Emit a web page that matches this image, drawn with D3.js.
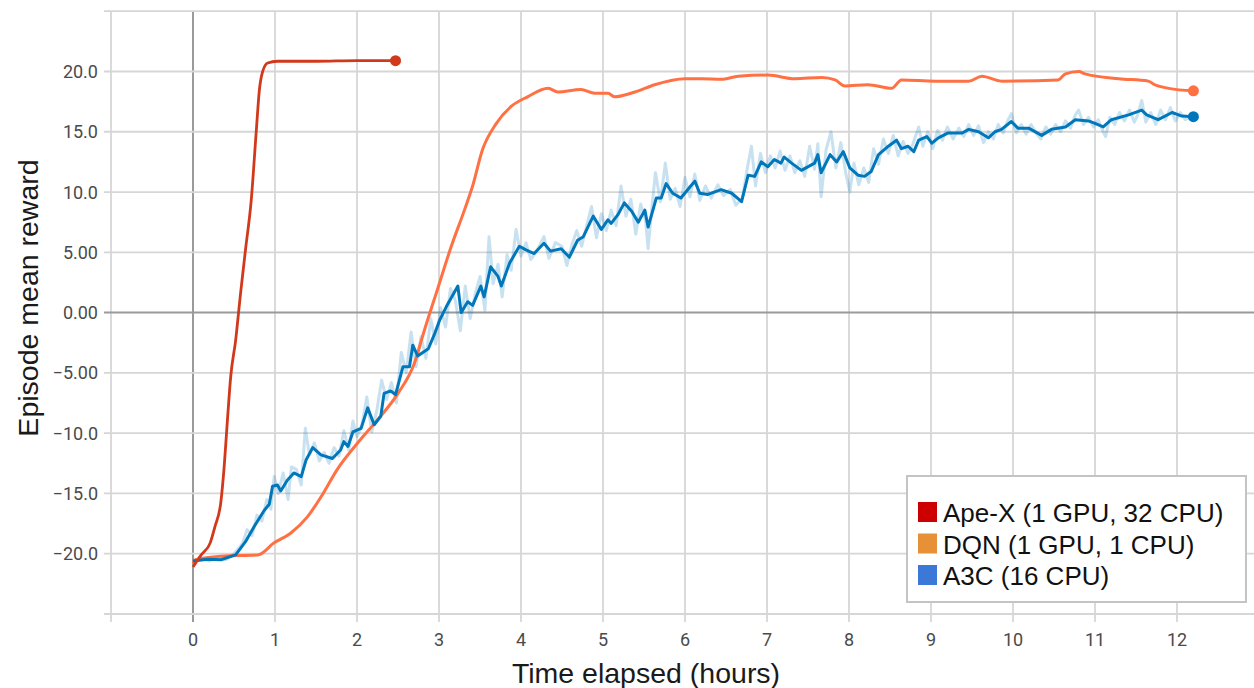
<!DOCTYPE html>
<html>
<head>
<meta charset="utf-8">
<script src="https://cdn.jsdelivr.net/npm/d3@7.9.0/dist/d3.min.js"></script>
<style>
  html, body { margin: 0; padding: 0; background: #fff; }
  svg { display: block; }
</style>
</head>
<body>
<svg id="chart" width="1254" height="688"></svg>
<script>
// x ticks (hours) and y ticks (reward)
const xTicks = [-1, 0, 1, 2, 3, 4, 5, 6, 7, 8, 9, 10, 11, 12];
const yTicks = [-25, -20, -15, -10, -5, 0, 5, 10, 15, 20, 25];

// Ape-X (1 GPU, 32 CPU)
const apexHours  = [0, 0.1, 0.21, 0.27, 0.34, 0.38, 0.42, 0.46, 0.52, 0.58, 0.64, 0.71, 0.77, 0.81, 0.85, 0.91, 1.03, 1.5, 2.0, 2.47];
const apexReward = [-21.1, -20.1, -19.1, -17.7, -15.7, -12.8, -8.9, -5.3, -2.3, 1.6, 5.2, 9.3, 14.9, 18.5, 20.0, 20.7, 20.85, 20.85, 20.9, 20.9];

// DQN (1 GPU, 1 CPU)
const dqnHours  = [0, 0.03, 0.34, 0.79, 0.99, 1.19, 1.4, 1.56, 1.76, 2.01, 2.25, 2.5, 2.7, 2.82, 2.98, 3.15, 3.31, 3.41, 3.53, 3.7, 3.88, 4.08, 4.33, 4.45, 4.73, 4.9, 5.06, 5.14, 5.39, 5.63, 6.0, 6.2, 6.44, 6.65, 7.01, 7.34, 7.67, 7.83, 7.95, 8.23, 8.52, 8.64, 9.05, 9.46, 9.62, 9.86, 10.55, 10.64, 10.8, 10.88, 11.29, 11.65, 11.73, 11.9, 12.2];
const dqnReward = [-20.8, -20.5, -20.2, -20.1, -19.1, -18.3, -16.9, -15.3, -13.0, -10.8, -8.9, -6.7, -4.2, -1.5, 1.9, 5.5, 8.5, 10.5, 13.5, 15.7, 17.1, 17.9, 18.6, 18.3, 18.5, 18.2, 18.2, 17.9, 18.3, 18.9, 19.4, 19.4, 19.35, 19.6, 19.7, 19.4, 19.5, 19.3, 18.8, 18.9, 18.6, 19.3, 19.2, 19.2, 19.6, 19.2, 19.3, 19.8, 20.0, 19.8, 19.4, 19.2, 18.9, 18.6, 18.4];

// A3C (16 CPU), smoothed
const a3cHours  = [0, 0.18, 0.34, 0.52, 0.64, 0.75, 0.87, 0.93, 0.97, 1.03, 1.07, 1.15, 1.23, 1.32, 1.38, 1.46, 1.56, 1.7, 1.8, 1.84, 1.89, 1.95, 2.05, 2.13, 2.21, 2.29, 2.33, 2.41, 2.47, 2.56, 2.64, 2.68, 2.74, 2.87, 2.95, 3.01, 3.09, 3.23, 3.27, 3.35, 3.41, 3.51, 3.55, 3.63, 3.72, 3.76, 3.86, 3.98, 4.06, 4.16, 4.28, 4.36, 4.49, 4.59, 4.69, 4.76, 4.88, 4.98, 5.06, 5.1, 5.18, 5.26, 5.35, 5.43, 5.51, 5.55, 5.65, 5.71, 5.77, 5.85, 5.95, 6.07, 6.12, 6.18, 6.28, 6.44, 6.57, 6.69, 6.77, 6.85, 6.93, 7.01, 7.09, 7.17, 7.21, 7.3, 7.42, 7.58, 7.62, 7.66, 7.77, 7.85, 7.93, 8.01, 8.11, 8.19, 8.27, 8.36, 8.48, 8.58, 8.64, 8.72, 8.79, 8.85, 8.95, 9.01, 9.09, 9.21, 9.38, 9.46, 9.58, 9.7, 9.78, 9.86, 9.98, 10.06, 10.19, 10.35, 10.47, 10.64, 10.76, 10.92, 11.0, 11.1, 11.2, 11.41, 11.57, 11.63, 11.77, 11.94, 12.06, 12.2];
const a3cReward = [-20.6, -20.45, -20.5, -20.1, -19.0, -17.7, -16.4, -15.9, -14.4, -14.3, -14.8, -13.9, -13.3, -13.6, -12.2, -11.2, -11.8, -12.1, -11.4, -10.7, -11.1, -9.9, -9.6, -7.9, -9.3, -8.6, -6.7, -6.5, -6.8, -4.5, -4.5, -2.7, -3.6, -3.0, -1.7, -0.6, 0.5, 2.2, 0.0, 0.9, 0.6, 2.2, 1.3, 3.8, 3.0, 2.2, 4.1, 5.5, 5.2, 4.9, 5.75, 5.1, 5.3, 4.6, 6.0, 6.3, 8.0, 6.9, 7.7, 7.4, 8.1, 9.1, 8.4, 7.5, 8.5, 7.1, 9.5, 9.5, 10.7, 9.9, 9.5, 10.5, 10.9, 9.9, 9.8, 10.2, 9.9, 9.2, 11.4, 11.3, 12.5, 12.1, 12.7, 12.4, 12.9, 12.4, 11.8, 12.4, 13.1, 11.6, 13.1, 12.5, 13.35, 12.0, 11.4, 11.3, 11.7, 13.1, 13.8, 14.3, 13.6, 13.8, 13.35, 14.3, 14.6, 14.05, 14.5, 14.9, 14.9, 15.2, 15.0, 14.5, 15.0, 15.2, 15.85, 15.3, 15.3, 14.7, 15.2, 15.4, 16.0, 15.9, 15.7, 15.4, 16.0, 16.4, 16.8, 16.4, 16.0, 16.6, 16.3, 16.25];

// A3C raw (unsmoothed, faint)
const a3cRawHours = [0, 0.1, 0.2, 0.3, 0.4, 0.5, 0.6, 0.66, 0.72, 0.78, 0.84, 0.9, 0.95, 0.99, 1.04, 1.1, 1.16, 1.2, 1.26, 1.32, 1.37, 1.42, 1.48, 1.54, 1.6, 1.66, 1.72, 1.78, 1.84, 1.9, 1.95, 2.0, 2.06, 2.12, 2.18, 2.24, 2.3, 2.36, 2.42, 2.48, 2.54, 2.6, 2.66, 2.72, 2.78, 2.84, 2.9, 2.96, 3.02, 3.08, 3.14, 3.2, 3.26, 3.32, 3.38, 3.44, 3.5, 3.56, 3.61, 3.66, 3.72, 3.77, 3.83, 3.88, 3.94, 4.0, 4.06, 4.12, 4.2, 4.28, 4.34, 4.42, 4.5, 4.56, 4.62, 4.68, 4.74, 4.8, 4.86, 4.92, 4.98, 5.04, 5.1, 5.16, 5.22, 5.28, 5.34, 5.4, 5.46, 5.52, 5.55, 5.6, 5.64, 5.7, 5.76, 5.82, 5.88, 5.94, 6.0, 6.06, 6.12, 6.18, 6.25, 6.32, 6.4, 6.47, 6.55, 6.62, 6.7, 6.76, 6.81, 6.86, 6.92, 6.98, 7.04, 7.1, 7.16, 7.22, 7.28, 7.34, 7.4, 7.46, 7.52, 7.58, 7.62, 7.66, 7.72, 7.78, 7.84, 7.9, 7.96, 8.01, 8.06, 8.12, 8.18, 8.24, 8.3, 8.36, 8.42, 8.48, 8.54, 8.6, 8.66, 8.72, 8.78, 8.85, 8.9, 8.96, 9.02, 9.08, 9.14, 9.2, 9.27, 9.34, 9.4, 9.46, 9.52, 9.58, 9.64, 9.7, 9.76, 9.82, 9.88, 9.94, 9.98, 10.04, 10.1, 10.16, 10.22, 10.28, 10.34, 10.4, 10.46, 10.52, 10.58, 10.64, 10.7, 10.76, 10.8, 10.86, 10.92, 10.98, 11.04, 11.1, 11.13, 11.18, 11.24, 11.3, 11.36, 11.42, 11.48, 11.52, 11.57, 11.62, 11.68, 11.74, 11.8, 11.86, 11.92, 11.98, 12.04, 12.1, 12.2];
const a3cRaw = [-20.6, -20.4, -20.6, -20.3, -20.5, -20.0, -19.2, -18.0, -18.5, -16.8, -17.3, -15.5, -16.3, -13.6, -15.0, -13.3, -15.5, -12.8, -13.0, -14.3, -9.6, -11.8, -10.8, -12.3, -11.6, -12.5, -11.2, -11.9, -9.8, -11.4, -9.0, -10.3, -9.3, -7.0, -9.9, -8.2, -5.6, -7.2, -5.8, -7.5, -3.3, -5.0, -1.6, -4.5, -2.0, -3.8, -0.5, -2.6, 0.4, -1.2, 2.0, 1.0, -1.5, 2.2, -0.5, 1.5, 3.0, 0.2, 6.3, 2.4, 4.0, 1.3, 4.8, 3.5, 6.9, 4.7, 5.8, 4.4, 5.2, 6.3, 4.5, 5.8, 5.5, 3.9, 5.6, 6.8, 5.5, 7.2, 8.8, 6.2, 8.2, 6.8, 8.5, 7.2, 10.5, 8.0, 9.4, 6.5, 9.0, 7.6, 5.3, 9.0, 11.6, 9.2, 12.4, 9.4, 10.3, 8.8, 11.2, 9.6, 11.5, 9.3, 10.5, 9.5, 10.6, 9.7, 10.2, 8.9, 9.5, 12.0, 13.8, 10.5, 13.2, 11.6, 13.0, 12.0, 13.4, 11.8, 13.0, 11.6, 12.6, 11.3, 13.8, 11.9, 14.0, 9.6, 13.5, 15.0, 12.0, 14.1, 11.6, 10.0, 12.4, 10.6, 12.0, 10.8, 13.6, 12.3, 14.4, 13.2, 14.7, 13.0, 14.2, 13.2, 14.0, 15.4, 13.8, 15.0, 13.6, 15.1, 14.3, 15.4, 14.4, 15.3, 14.6, 15.6, 14.7, 15.5, 14.1, 15.0, 14.4, 15.6, 14.9, 16.0, 16.5, 14.9, 15.6, 14.8, 15.6, 14.9, 14.4, 15.4, 14.8, 15.6, 15.0, 15.9, 15.3, 16.4, 16.8, 15.6, 16.2, 15.4, 16.0, 15.0, 14.6, 16.2, 15.6, 16.6, 15.9, 16.8, 15.8, 16.4, 17.6, 15.8, 16.6, 15.6, 16.8, 16.0, 17.0, 15.9, 16.6, 16.0, 16.3];

const legendLabels = ["Ape-X (1 GPU, 32 CPU)", "DQN (1 GPU, 1 CPU)", "A3C (16 CPU)"];
const legendColors = ["#cc0000", "#e69138", "#3c78d8"];

const svg = d3.select("#chart");

const x = d3.scaleLinear().domain([-1, 12.85]).range([111, 1246.7]);
const y = d3.scaleLinear().domain([-25, 25]).range([614, 11.2]);

// grid
const grid = svg.append("g");
grid.selectAll("line.v").data(xTicks).join("line")
  .attr("x1", d => x(d)).attr("x2", d => x(d))
  .attr("y1", y(25)).attr("y2", y(-25) + 8)
  .attr("stroke", d => d === 0 ? "#9a9a9a" : "#d6d6d6")
  .attr("stroke-width", d => d === 0 ? 2 : 1.8);
grid.selectAll("line.h").data(yTicks).join("line")
  .attr("x1", x(-1) - 7).attr("x2", 1254)
  .attr("y1", d => y(d)).attr("y2", d => y(d))
  .attr("stroke", d => d === 0 ? "#9a9a9a" : "#d6d6d6")
  .attr("stroke-width", d => d === 0 ? 2 : 1.8);

// tick labels
const fmt = d3.format(".3r");
svg.append("g").selectAll("text").data(yTicks.filter(d => Math.abs(d) < 25)).join("text")
  .attr("x", 98).attr("y", d => y(d) + 6.5)
  .attr("text-anchor", "end")
  .attr("font-family", "Roboto, sans-serif").attr("font-size", 18)
  .attr("fill", "#4a4a4a")
  .text(d => fmt(d));
svg.append("g").selectAll("text").data(xTicks.filter(d => d >= 0)).join("text")
  .attr("x", d => x(d)).attr("y", 646)
  .attr("text-anchor", "middle")
  .attr("font-family", "Roboto, sans-serif").attr("font-size", 18)
  .attr("fill", "#4a4a4a")
  .text(d => d);

// axis titles
svg.append("text")
  .attr("x", 646).attr("y", 683)
  .attr("text-anchor", "middle")
  .attr("font-family", "'Liberation Sans', Arial, sans-serif").attr("font-size", 28.5)
  .attr("fill", "#1a1a1a")
  .text("Time elapsed (hours)");
svg.append("text")
  .attr("transform", "translate(38,298) rotate(-90)")
  .attr("text-anchor", "middle")
  .attr("font-family", "'Liberation Sans', Arial, sans-serif").attr("font-size", 28.5)
  .attr("fill", "#1a1a1a")
  .text("Episode mean reward");

const line = d3.line().x(d => x(d[0])).y(d => y(d[1]));
const zip = (a, b) => a.map((h, i) => [h, b[i]]);

const series = [
  { pts: zip(a3cRawHours, a3cRaw), color: "#0077bb", width: 3, opacity: 0.22, curve: d3.curveLinear },
  { pts: zip(dqnHours, dqnReward), color: "#ff7043", width: 3, opacity: 1, curve: d3.curveMonotoneX, dot: true },
  { pts: zip(a3cHours, a3cReward), color: "#0077bb", width: 3, opacity: 1, curve: d3.curveLinear, dot: true },
  { pts: zip(apexHours, apexReward), color: "#d1391c", width: 2.8, opacity: 1, curve: d3.curveMonotoneX, dot: true }
];

series.forEach(s => {
  svg.append("path")
    .attr("d", line.curve(s.curve)(s.pts))
    .attr("fill", "none")
    .attr("stroke", s.color)
    .attr("stroke-width", s.width)
    .attr("stroke-opacity", s.opacity)
    .attr("stroke-linejoin", "round");
  if (s.dot) {
    const last = s.pts[s.pts.length - 1];
    svg.append("circle")
      .attr("cx", x(last[0])).attr("cy", y(last[1])).attr("r", 5.5)
      .attr("fill", s.color);
  }
});

// legend
const lg = svg.append("g");
lg.append("rect")
  .attr("x", 907).attr("y", 476).attr("width", 339).attr("height", 126)
  .attr("fill", "#fff").attr("stroke", "#c4c4c4").attr("stroke-width", 2);
legendLabels.forEach((label, i) => {
  lg.append("rect")
    .attr("x", 918).attr("y", 502 + i * 31.5).attr("width", 19).attr("height", 20)
    .attr("fill", legendColors[i]);
  lg.append("text")
    .attr("x", 943).attr("y", 522 + i * 31.5)
    .attr("font-family", "'Liberation Sans', Arial, sans-serif").attr("font-size", 26)
    .attr("fill", "#111")
    .text(label);
});
</script>
</body>
</html>
